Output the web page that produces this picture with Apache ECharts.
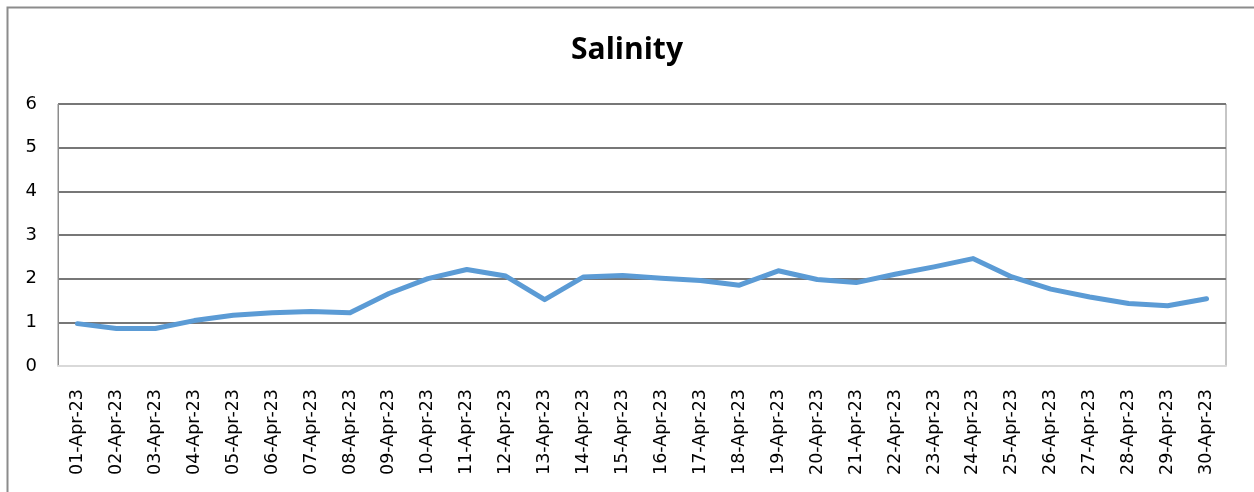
<!DOCTYPE html>
<html>
<head>
<meta charset="utf-8">
<script src="https://cdn.jsdelivr.net/npm/echarts@6/dist/echarts.min.js"></script>
<style>
html,body{margin:0;padding:0;background:#fff;}
#chart{width:1254px;height:492px;}
</style>
</head>
<body>
<div id="chart"></div>
<script>
const title = 'Salinity';
const categories = ['01-Apr-23','02-Apr-23','03-Apr-23','04-Apr-23','05-Apr-23','06-Apr-23','07-Apr-23','08-Apr-23','09-Apr-23','10-Apr-23','11-Apr-23','12-Apr-23','13-Apr-23','14-Apr-23','15-Apr-23','16-Apr-23','17-Apr-23','18-Apr-23','19-Apr-23','20-Apr-23','21-Apr-23','22-Apr-23','23-Apr-23','24-Apr-23','25-Apr-23','26-Apr-23','27-Apr-23','28-Apr-23','29-Apr-23','30-Apr-23'];
const salinity = [0.97,0.86,0.86,1.04,1.16,1.22,1.25,1.22,1.66,2.0,2.21,2.06,1.52,2.04,2.07,2.01,1.96,1.85,2.18,1.98,1.91,2.1,2.27,2.46,2.04,1.76,1.58,1.43,1.38,1.54];
const yMin = 0, yMax = 6, yStep = 1;

const chart = echarts.init(document.getElementById('chart'), null, {renderer:'canvas'});
chart.setOption({
  animation:false,
  backgroundColor:'#fff',
  graphic:[{
    type:'rect', left:5, top:5, silent:true,
    shape:{x:0,y:0,width:1300,height:600},
    style:{fill:'none', stroke:'#8c8c8c', lineWidth:2}
  }],
  title:{
    text:title, left:'center', top:30,
    textStyle:{fontFamily:'Open Sans', fontWeight:'bold', fontSize:30, color:'#000'}
  },
  grid:{left:58, right:28, top:104, bottom:126, show:true, borderColor:'#8c8c8c', borderWidth:1},
  xAxis:{
    type:'category', data:categories, boundaryGap:true,
    axisLine:{lineStyle:{color:'#d9d9d9', width:2}},
    axisTick:{show:false},
    axisLabel:{rotate:90, interval:0, margin:23, fontFamily:'DejaVu Sans', fontSize:17.5, color:'#000'}
  },
  yAxis:{
    type:'value', min:yMin, max:yMax, interval:yStep,
    axisLine:{show:true, lineStyle:{color:'#8c8c8c', width:1}},
    axisTick:{show:false},
    splitLine:{lineStyle:{color:'#777777', width:2}},
    axisLabel:{margin:21, fontFamily:'DejaVu Sans', fontSize:18, color:'#000'}
  },
  series:[{
    type:'line', data:salinity, showSymbol:false, symbol:'none',
    lineStyle:{color:'#5b9bd5', width:5, cap:'round', join:'round'},
    itemStyle:{color:'#5b9bd5'}
  }]
});
</script>
</body>
</html>
